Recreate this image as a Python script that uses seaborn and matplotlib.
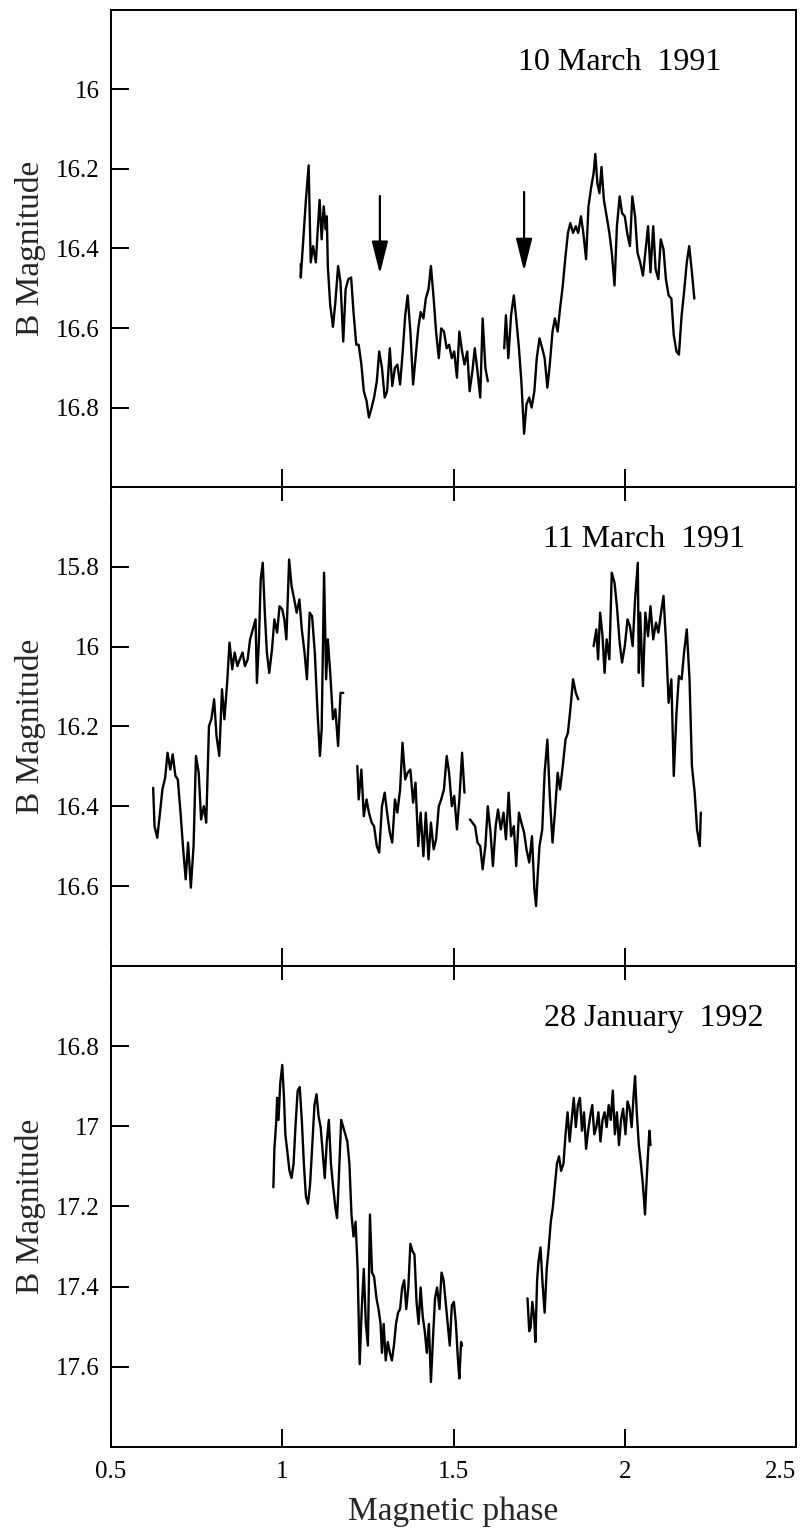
import numpy as np
import pandas as pd
import matplotlib
matplotlib.use("Agg")
import matplotlib.pyplot as plt
import seaborn as sns

# ---------------- data: 10 March 1991 ----------------
p1_phase = [1.054, 1.054, 1.069, 1.077, 1.083, 1.090, 1.098, 1.103, 1.109, 1.115,
            1.121, 1.127, 1.130, 1.133, 1.140, 1.145, 1.148, 1.155, 1.163, 1.170,
            1.178, 1.185, 1.193, 1.201, 1.208, 1.216, 1.223, 1.231, 1.238, 1.246,
            1.253, 1.261, 1.268, 1.276, 1.283, 1.291, 1.299, 1.306, 1.314, 1.321,
            1.329, 1.336, 1.344, 1.351, 1.359, 1.366, 1.374, 1.382, 1.389, 1.397,
            1.404, 1.412, 1.419, 1.427, 1.434, 1.442, 1.449, 1.457, 1.464, 1.472,
            1.480, 1.487, 1.495, 1.502, 1.510, 1.517, 1.525, 1.532, 1.540, 1.547,
            1.555, 1.562, 1.570, 1.578, 1.585, 1.593, 1.600,
            1.648, 1.653, 1.660, 1.668, 1.676, 1.683, 1.691, 1.698, 1.706, 1.713,
            1.721, 1.728, 1.736, 1.743, 1.751, 1.759, 1.766, 1.774, 1.781, 1.789,
            1.796, 1.804, 1.811, 1.819, 1.826, 1.834, 1.841, 1.849, 1.857, 1.864,
            1.872, 1.879, 1.887, 1.894, 1.902, 1.909, 1.914, 1.920, 1.926, 1.932,
            1.939, 1.947, 1.955, 1.962, 1.970, 1.977, 1.985, 1.992, 2.000, 2.007,
            2.015, 2.022, 2.030, 2.037, 2.045, 2.053, 2.060, 2.068, 2.075, 2.083,
            2.090, 2.098, 2.105, 2.113, 2.120, 2.128, 2.136, 2.143, 2.151, 2.158,
            2.166, 2.173, 2.181, 2.188, 2.196, 2.203]
p1_mag = [16.439, 16.473, 16.278, 16.191, 16.435, 16.394, 16.435, 16.361, 16.278, 16.377,
          16.294, 16.352, 16.319, 16.444, 16.543, 16.576, 16.597, 16.535, 16.444, 16.485,
          16.634, 16.502, 16.477, 16.473, 16.560, 16.642, 16.642, 16.692, 16.759, 16.783,
          16.825, 16.800, 16.775, 16.734, 16.659, 16.700, 16.775, 16.759, 16.651, 16.746,
          16.700, 16.692, 16.742, 16.667, 16.568, 16.518, 16.609, 16.742, 16.676, 16.601,
          16.560, 16.576, 16.526, 16.502, 16.444, 16.526, 16.609, 16.676, 16.601, 16.609,
          16.651, 16.642, 16.676, 16.659, 16.725, 16.609, 16.659, 16.692, 16.659, 16.759,
          16.709, 16.651, 16.709, 16.775, 16.576, 16.700, 16.734,
          16.651, 16.568, 16.676, 16.568, 16.518, 16.576, 16.651, 16.734, 16.866, 16.792,
          16.775, 16.800, 16.759, 16.676, 16.626, 16.651, 16.676, 16.750, 16.692, 16.609,
          16.576, 16.609, 16.551, 16.493, 16.427, 16.361, 16.336, 16.361, 16.344, 16.361,
          16.319, 16.361, 16.427, 16.294, 16.245, 16.211, 16.162, 16.236, 16.261, 16.195,
          16.278, 16.319, 16.361, 16.410, 16.493, 16.344, 16.269, 16.311, 16.319, 16.361,
          16.394, 16.269, 16.319, 16.410, 16.435, 16.468, 16.410, 16.344, 16.460, 16.344,
          16.452, 16.477, 16.377, 16.402, 16.477, 16.518, 16.526, 16.618, 16.659, 16.667,
          16.568, 16.510, 16.435, 16.394, 16.460, 16.526]
p1_seg = [0] * 77 + [1] * (len(p1_phase) - 77)

# ---------------- data: 11 March 1991 ----------------
p2_phase_a = [0.623, 0.627, 0.635, 0.643, 0.650, 0.658, 0.665, 0.673, 0.680, 0.688,
              0.695, 0.703, 0.710, 0.718, 0.725, 0.733, 0.741, 0.748, 0.756, 0.763,
              0.771, 0.778, 0.786, 0.793, 0.801, 0.808, 0.816, 0.824, 0.831, 0.839,
              0.846, 0.854, 0.861, 0.869, 0.876, 0.884, 0.891, 0.899, 0.906, 0.914,
              0.922, 0.926, 0.932, 0.937, 0.943, 0.949, 0.955, 0.962, 0.970, 0.977,
              0.985, 0.992, 1.000, 1.006, 1.012, 1.020, 1.027, 1.035, 1.042, 1.050,
              1.057, 1.065, 1.072, 1.080, 1.087, 1.095, 1.103, 1.110, 1.115, 1.122,
              1.128, 1.133, 1.140, 1.148, 1.155, 1.163, 1.170, 1.178]
p2_mag_a = [16.354, 16.450, 16.479, 16.416, 16.358, 16.329, 16.266, 16.308, 16.270, 16.324,
            16.333, 16.416, 16.500, 16.583, 16.491, 16.604, 16.500, 16.274, 16.316, 16.433,
            16.400, 16.441, 16.199, 16.182, 16.132, 16.224, 16.274, 16.107, 16.182, 16.091,
            15.990, 16.057, 16.015, 16.049, 16.032, 16.015, 16.049, 16.032, 15.982, 15.957,
            15.932, 16.091, 15.982, 15.832, 15.790, 15.915, 16.015, 16.066, 16.007, 15.932,
            15.965, 15.899, 15.907, 15.932, 15.982, 15.782, 15.848, 15.882, 15.915, 15.882,
            15.957, 16.015, 16.082, 15.915, 15.924, 16.015, 16.166, 16.274, 16.207, 15.815,
            16.082, 15.982, 16.066, 16.182, 16.157, 16.249, 16.116, 16.116]
p2_phase_b = [1.219, 1.223, 1.231, 1.238, 1.246, 1.253, 1.261, 1.268, 1.276, 1.283,
              1.291, 1.299, 1.306, 1.314, 1.321, 1.329, 1.336, 1.344, 1.351, 1.359,
              1.366, 1.374, 1.382, 1.389, 1.397, 1.404, 1.412, 1.419, 1.427, 1.434,
              1.442, 1.449, 1.457, 1.464, 1.472, 1.480, 1.487, 1.495, 1.502, 1.510,
              1.517, 1.525, 1.532]
p2_mag_b = [16.299, 16.383, 16.308, 16.425, 16.383, 16.416, 16.441, 16.450, 16.500, 16.516,
            16.400, 16.366, 16.416, 16.466, 16.491, 16.383, 16.416, 16.358, 16.241, 16.333,
            16.316, 16.308, 16.391, 16.341, 16.500, 16.416, 16.525, 16.416, 16.533, 16.441,
            16.508, 16.483, 16.400, 16.383, 16.358, 16.274, 16.316, 16.400, 16.374, 16.458,
            16.383, 16.266, 16.366]
p2_phase_c = [1.548, 1.555, 1.563, 1.570, 1.578, 1.585, 1.593, 1.600, 1.608, 1.615,
              1.623, 1.630, 1.638, 1.646, 1.653, 1.661, 1.668, 1.676, 1.683, 1.691,
              1.698, 1.706, 1.713, 1.721, 1.729, 1.736, 1.741, 1.745, 1.751, 1.759,
              1.766, 1.774, 1.781, 1.789, 1.796, 1.804, 1.811, 1.819, 1.827, 1.834,
              1.842, 1.849, 1.857, 1.864]
p2_mag_c = [16.433, 16.441, 16.450, 16.491, 16.500, 16.558, 16.500, 16.400, 16.466, 16.550,
            16.450, 16.408, 16.458, 16.416, 16.483, 16.366, 16.475, 16.450, 16.550, 16.416,
            16.441, 16.466, 16.508, 16.541, 16.475, 16.608, 16.650, 16.583, 16.500, 16.458,
            16.316, 16.233, 16.374, 16.491, 16.416, 16.316, 16.358, 16.299, 16.233, 16.216,
            16.149, 16.082, 16.116, 16.132]
p2_phase_d = [1.909, 1.917, 1.922, 1.928, 1.935, 1.941, 1.947, 1.955, 1.962, 1.970,
              1.977, 1.985, 1.992, 2.000, 2.008, 2.015, 2.023, 2.030, 2.038, 2.041,
              2.045, 2.053, 2.060, 2.068, 2.075, 2.083, 2.091, 2.098, 2.106, 2.113,
              2.121, 2.128, 2.136, 2.143, 2.151, 2.158, 2.166, 2.173, 2.181, 2.189,
              2.196, 2.204, 2.211, 2.219, 2.222]
p2_mag_d = [15.999, 15.957, 16.032, 15.915, 15.974, 16.066, 15.982, 16.032, 15.815, 15.840,
            15.899, 15.990, 16.040, 15.999, 15.932, 15.949, 15.999, 15.882, 15.790, 16.066,
            15.915, 16.099, 15.915, 15.974, 15.899, 15.982, 15.940, 15.965, 15.915, 15.873,
            15.999, 16.141, 16.082, 16.324, 16.166, 16.074, 16.082, 16.015, 15.957, 16.082,
            16.299, 16.366, 16.458, 16.500, 16.416]

# ---------------- data: 28 January 1992 ----------------
p3_phase_a = [0.974, 0.977, 0.982, 0.985, 0.989, 0.994, 1.000, 1.005, 1.009, 1.015,
              1.021, 1.027, 1.033, 1.039, 1.045, 1.051, 1.057, 1.063, 1.069, 1.075,
              1.081, 1.087, 1.094, 1.100, 1.106, 1.112, 1.118, 1.124, 1.130, 1.136,
              1.142, 1.148, 1.155, 1.160, 1.166, 1.172, 1.178, 1.184, 1.190, 1.196,
              1.202, 1.208, 1.214, 1.220, 1.226, 1.232, 1.238, 1.244, 1.250, 1.256,
              1.262, 1.268, 1.275, 1.281, 1.287, 1.291, 1.296, 1.302, 1.308, 1.314,
              1.320, 1.326, 1.332, 1.338, 1.344, 1.350, 1.356, 1.362, 1.368, 1.374,
              1.380, 1.386, 1.392, 1.398, 1.404, 1.410, 1.416, 1.422, 1.428, 1.434,
              1.440, 1.446, 1.452, 1.459, 1.465, 1.471, 1.477, 1.483, 1.489, 1.495,
              1.501, 1.507, 1.513, 1.517, 1.522, 1.525]
p3_mag_a = [17.152, 17.056, 16.993, 16.929, 16.984, 16.893, 16.847, 16.929, 17.020, 17.065,
            17.111, 17.129, 17.093, 16.993, 16.911, 16.902, 16.984, 17.093, 17.175, 17.193,
            17.147, 17.056, 16.947, 16.920, 16.975, 17.002, 17.065, 17.129, 17.038, 16.984,
            17.093, 17.147, 17.202, 17.229, 17.111, 16.984, 17.002, 17.020, 17.038, 17.093,
            17.220, 17.275, 17.238, 17.356, 17.593, 17.456, 17.356, 17.493, 17.547, 17.220,
            17.365, 17.375, 17.429, 17.456, 17.493, 17.565, 17.493, 17.584, 17.538, 17.565,
            17.584, 17.547, 17.493, 17.465, 17.456, 17.402, 17.384, 17.456, 17.402, 17.293,
            17.311, 17.320, 17.438, 17.493, 17.402, 17.474, 17.511, 17.565, 17.493, 17.638,
            17.529, 17.429, 17.402, 17.456, 17.365, 17.384, 17.438, 17.493, 17.547, 17.447,
            17.438, 17.493, 17.584, 17.629, 17.538, 17.547]
p3_phase_b = [1.716, 1.721, 1.725, 1.730, 1.735, 1.739, 1.744, 1.748, 1.754, 1.760,
              1.766, 1.772, 1.778, 1.784, 1.790, 1.796, 1.802, 1.808, 1.814, 1.821,
              1.827, 1.833, 1.839, 1.845, 1.851, 1.857, 1.863, 1.869, 1.875, 1.881,
              1.887, 1.893, 1.899, 1.905, 1.911, 1.917, 1.923, 1.929, 1.935, 1.941,
              1.947, 1.953, 1.959, 1.965, 1.971, 1.977, 1.983, 1.989, 1.995, 2.002,
              2.008, 2.014, 2.020, 2.026, 2.030, 2.035, 2.041, 2.047, 2.053, 2.059,
              2.063, 2.068, 2.072, 2.075]
p3_mag_b = [17.429, 17.511, 17.502, 17.438, 17.474, 17.538, 17.384, 17.338, 17.302, 17.393,
            17.465, 17.356, 17.302, 17.238, 17.202, 17.147, 17.093, 17.075, 17.111, 17.093,
            17.020, 16.965, 17.038, 16.984, 16.929, 17.002, 16.947, 16.929, 17.011, 16.965,
            17.056, 17.011, 16.975, 16.947, 17.020, 17.002, 16.965, 17.038, 16.984, 16.965,
            17.002, 16.947, 16.984, 16.911, 17.020, 16.965, 17.047, 16.984, 16.956, 17.020,
            16.938, 16.956, 17.002, 16.920, 16.875, 16.965, 17.047, 17.093, 17.147, 17.220,
            17.147, 17.065, 17.011, 17.047]

titles = ["10 March  1991", "11 March  1991", "28 January  1992"]
ylims = [(17.0, 15.8), (16.8, 15.6), (17.8, 16.6)]
yticks = [[16.0, 16.2, 16.4, 16.6, 16.8],
          [15.8, 16.0, 16.2, 16.4, 16.6],
          [16.8, 17.0, 17.2, 17.4, 17.6]]
ytick_labels = [["16", "16.2", "16.4", "16.6", "16.8"],
                ["15.8", "16", "16.2", "16.4", "16.6"],
                ["16.8", "17", "17.2", "17.4", "17.6"]]
xticks = [0.5, 1.0, 1.5, 2.0, 2.5]
xtick_labels = ["0.5", "1", "1.5", "2", "2.5"]
title_x = [0.594, 0.631, 0.632]
arrow_phase = [1.285, 1.706]
arrow_tail = [16.268, 16.258]
arrow_tip = [16.464, 16.457]


def frame(phases, mags):
    rows = []
    for k, (ph, mg) in enumerate(zip(phases, mags)):
        for a, b in zip(ph, mg):
            rows.append((a, b, k))
    return pd.DataFrame(rows, columns=["phase", "mag", "seg"])


df1 = pd.DataFrame({"phase": p1_phase, "mag": p1_mag, "seg": p1_seg})
df2 = frame([p2_phase_a, p2_phase_b, p2_phase_c, p2_phase_d],
            [p2_mag_a, p2_mag_b, p2_mag_c, p2_mag_d])
df3 = frame([p3_phase_a, p3_phase_b], [p3_mag_a, p3_mag_b])
frames = [df1, df2, df3]

sns.set_style("ticks")
plt.rcParams["font.family"] = ["Liberation Serif", "DejaVu Serif"]

fig = plt.figure(figsize=(8.08, 15.32), dpi=100)
left, width = 0.1374, 0.8478
boxes = [(0.6821, 0.3114), (0.3695, 0.3127), (0.05548, 0.3140)]
axes = []
for i, (b, h) in enumerate(boxes):
    ax = fig.add_axes([left, b, width, h])
    axes.append(ax)
    sns.lineplot(data=frames[i], x="phase", y="mag", units="seg", estimator=None,
                 sort=False, color="black", linewidth=1.7, ax=ax)
    ax.set_xlim(0.5, 2.5)
    ax.set_ylim(*ylims[i])
    ax.set_yticks(yticks[i])
    ax.set_yticklabels(ytick_labels[i])
    ax.set_xticks(xticks)
    for s in ax.spines.values():
        s.set_linewidth(1.4)
        s.set_color("black")
    ax.tick_params(axis="y", direction="in", length=13, width=1.4, labelsize=18,
                   pad=8, colors="black")
    ax.tick_params(axis="x", direction="in", length=13, width=1.4, labelsize=18,
                   pad=10, colors="black", top=(i > 0))
    if i > 0:
        for t in ax.xaxis.get_major_ticks():
            t.tick2line.set_markersize(10)
    if i < 2:
        ax.set_xticklabels([])
        ax.set_xlabel("")
    else:
        ax.set_xticklabels(xtick_labels)
        ax.get_xticklabels()[-1].set_horizontalalignment("right")
        ax.set_xlabel("Magnetic phase", fontsize=24, labelpad=10)
    ax.set_ylabel("B Magnitude", fontsize=24)
    ax.yaxis.set_label_coords(-0.095, 0.5)
    ax.text(title_x[i], 0.89, titles[i], transform=ax.transAxes, fontsize=23,
            ha="left", va="center", color="black")

for ph, t0, t1 in zip(arrow_phase, arrow_tail, arrow_tip):
    axes[0].annotate("", xy=(ph, t1), xytext=(ph, t0),
                     arrowprops=dict(arrowstyle="-|>,head_length=1.0,head_width=0.25",
                                     color="black", lw=1.6, mutation_scale=20,
                                     shrinkA=0, shrinkB=0))

fig.savefig("out.png", dpi=100, facecolor="white")
